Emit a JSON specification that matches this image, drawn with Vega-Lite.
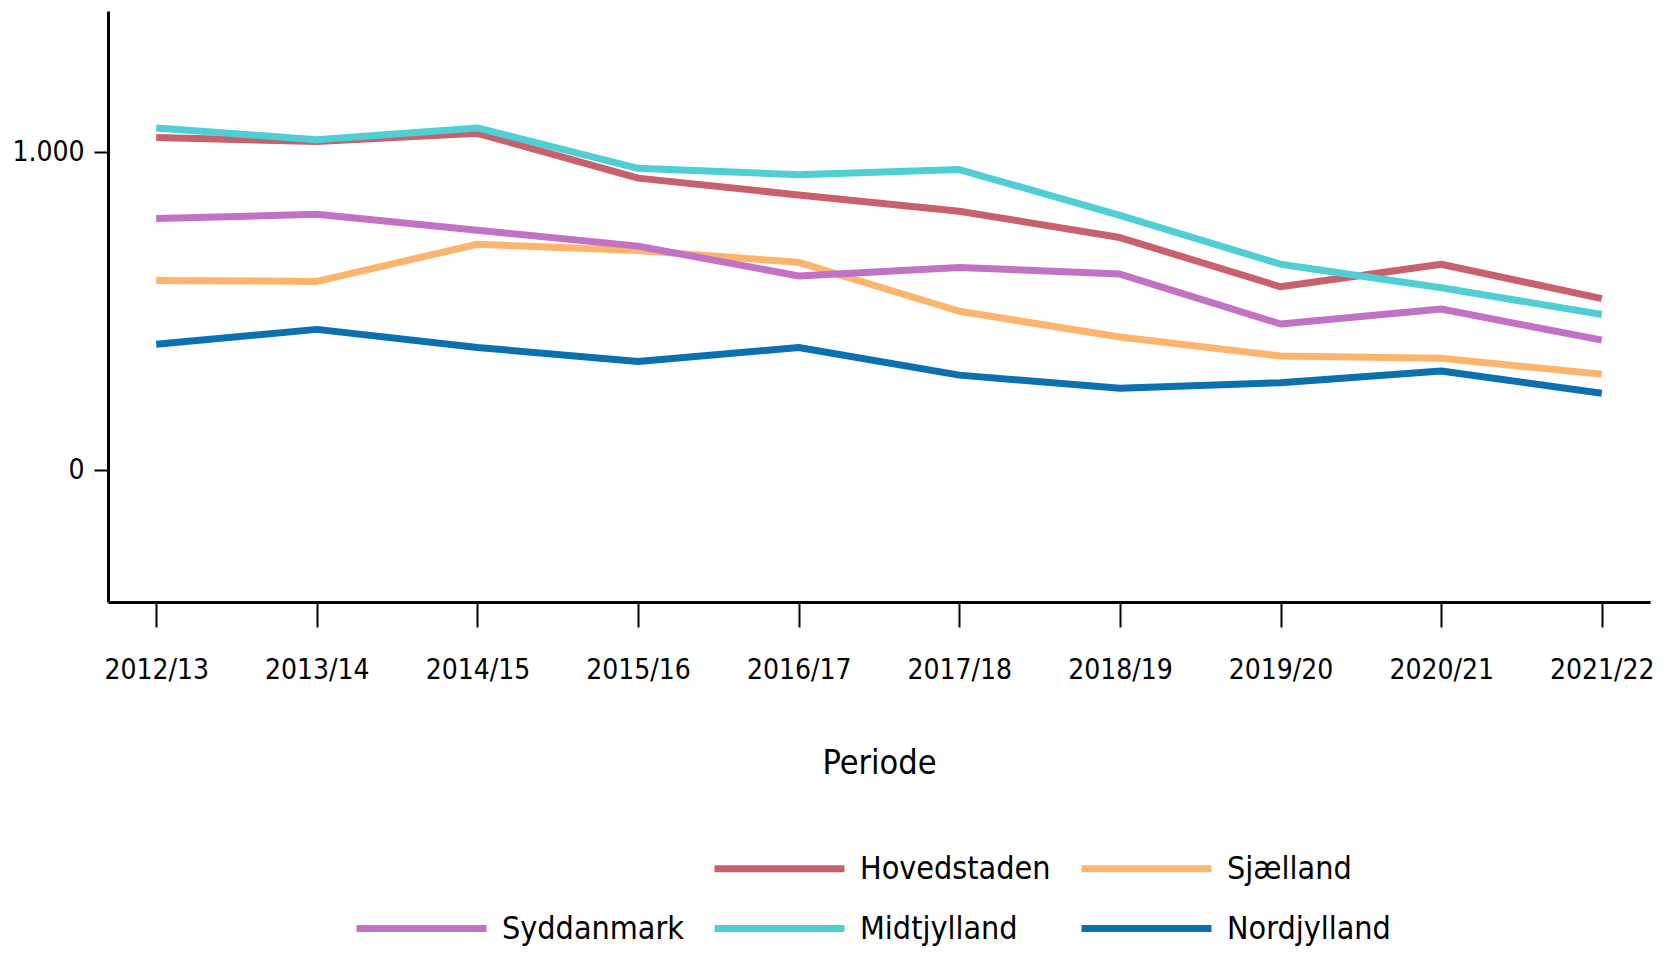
{
  "$schema": "https://vega.github.io/schema/vega-lite/v6.json",
  "width": 1542,
  "height": 591,
  "autosize": "none",
  "padding": {"left": 108, "top": 11, "right": 21, "bottom": 352},
  "background": "white",
  "config": {
    "view": {"stroke": null},
    "font": "DejaVu Sans Condensed, DejaVu Sans",
    "axis": {"labelFont": "DejaVu Sans Condensed, DejaVu Sans", "titleFont": "DejaVu Sans Condensed, DejaVu Sans", "grid": false, "domainColor": "black", "domainWidth": 3, "tickColor": "black", "tickWidth": 2, "labelColor": "black", "titleColor": "black", "titleFontWeight": "normal"},
    "legend": {"labelFont": "DejaVu Sans Condensed, DejaVu Sans"}
  },
  "data": {
    "values": [
      {"Periode": "2012/13", "Region": "Hovedstaden", "Antal": 1047},
      {"Periode": "2013/14", "Region": "Hovedstaden", "Antal": 1034},
      {"Periode": "2014/15", "Region": "Hovedstaden", "Antal": 1060},
      {"Periode": "2015/16", "Region": "Hovedstaden", "Antal": 919},
      {"Periode": "2016/17", "Region": "Hovedstaden", "Antal": 866},
      {"Periode": "2017/18", "Region": "Hovedstaden", "Antal": 815},
      {"Periode": "2018/19", "Region": "Hovedstaden", "Antal": 732},
      {"Periode": "2019/20", "Region": "Hovedstaden", "Antal": 577},
      {"Periode": "2020/21", "Region": "Hovedstaden", "Antal": 648},
      {"Periode": "2021/22", "Region": "Hovedstaden", "Antal": 540},
      {"Periode": "2012/13", "Region": "Sjælland", "Antal": 597},
      {"Periode": "2013/14", "Region": "Sjælland", "Antal": 594},
      {"Periode": "2014/15", "Region": "Sjælland", "Antal": 711},
      {"Periode": "2015/16", "Region": "Sjælland", "Antal": 691},
      {"Periode": "2016/17", "Region": "Sjælland", "Antal": 654},
      {"Periode": "2017/18", "Region": "Sjælland", "Antal": 500},
      {"Periode": "2018/19", "Region": "Sjælland", "Antal": 419},
      {"Periode": "2019/20", "Region": "Sjælland", "Antal": 359},
      {"Periode": "2020/21", "Region": "Sjælland", "Antal": 352},
      {"Periode": "2021/22", "Region": "Sjælland", "Antal": 302},
      {"Periode": "2012/13", "Region": "Syddanmark", "Antal": 792},
      {"Periode": "2013/14", "Region": "Syddanmark", "Antal": 805},
      {"Periode": "2014/15", "Region": "Syddanmark", "Antal": 755},
      {"Periode": "2015/16", "Region": "Syddanmark", "Antal": 705},
      {"Periode": "2016/17", "Region": "Syddanmark", "Antal": 611},
      {"Periode": "2017/18", "Region": "Syddanmark", "Antal": 638},
      {"Periode": "2018/19", "Region": "Syddanmark", "Antal": 617},
      {"Periode": "2019/20", "Region": "Syddanmark", "Antal": 460},
      {"Periode": "2020/21", "Region": "Syddanmark", "Antal": 507},
      {"Periode": "2021/22", "Region": "Syddanmark", "Antal": 409},
      {"Periode": "2012/13", "Region": "Midtjylland", "Antal": 1077},
      {"Periode": "2013/14", "Region": "Midtjylland", "Antal": 1040},
      {"Periode": "2014/15", "Region": "Midtjylland", "Antal": 1077},
      {"Periode": "2015/16", "Region": "Midtjylland", "Antal": 950},
      {"Periode": "2016/17", "Region": "Midtjylland", "Antal": 930},
      {"Periode": "2017/18", "Region": "Midtjylland", "Antal": 946},
      {"Periode": "2018/19", "Region": "Midtjylland", "Antal": 802},
      {"Periode": "2019/20", "Region": "Midtjylland", "Antal": 648},
      {"Periode": "2020/21", "Region": "Midtjylland", "Antal": 574},
      {"Periode": "2021/22", "Region": "Midtjylland", "Antal": 490},
      {"Periode": "2012/13", "Region": "Nordjylland", "Antal": 396},
      {"Periode": "2013/14", "Region": "Nordjylland", "Antal": 443},
      {"Periode": "2014/15", "Region": "Nordjylland", "Antal": 386},
      {"Periode": "2015/16", "Region": "Nordjylland", "Antal": 342},
      {"Periode": "2016/17", "Region": "Nordjylland", "Antal": 386},
      {"Periode": "2017/18", "Region": "Nordjylland", "Antal": 299},
      {"Periode": "2018/19", "Region": "Nordjylland", "Antal": 258},
      {"Periode": "2019/20", "Region": "Nordjylland", "Antal": 275},
      {"Periode": "2020/21", "Region": "Nordjylland", "Antal": 312},
      {"Periode": "2021/22", "Region": "Nordjylland", "Antal": 242}
    ]
  },
  "mark": {"type": "line", "strokeWidth": 7, "strokeCap": "butt", "strokeJoin": "round"},
  "encoding": {
    "x": {
      "field": "Periode",
      "type": "ordinal",
      "scale": {"type": "point", "padding": 0.3},
      "axis": {"labelAngle": 0, "tickSize": 25, "labelFontSize": 28, "labelPadding": 29, "title": "Periode", "titleFontSize": 34, "titlePadding": 62}
    },
    "y": {
      "field": "Antal",
      "type": "quantitative",
      "scale": {"domain": [-415, 1445], "nice": false, "zero": false},
      "axis": {"values": [0, 1000], "tickSize": 14, "labelFontSize": 28, "labelPadding": 10, "title": null, "labelExpr": "replace(format(datum.value, ','), ',', '.')"}
    },
    "color": {
      "field": "Region",
      "type": "nominal",
      "scale": {
        "domain": [" ", "Hovedstaden", "Sjælland", "Syddanmark", "Midtjylland", "Nordjylland"],
        "range": ["transparent", "#c8616b", "#fdb46c", "#c172c4", "#4fcfd3", "#0a70b0"]
      },
      "legend": {
        "orient": "none",
        "legendX": 245,
        "legendY": 841,
        "title": null,
        "direction": "horizontal",
        "columns": 3,
        "symbolType": "M-1,0H9",
        "symbolSize": 676,
        "symbolStrokeWidth": 7,
        "labelFontSize": 32,
        "labelColor": "black",
        "labelOffset": 116,
        "columnPadding": 16,
        "rowPadding": 27,
        "labelLimit": 400
      }
    }
  }
}
